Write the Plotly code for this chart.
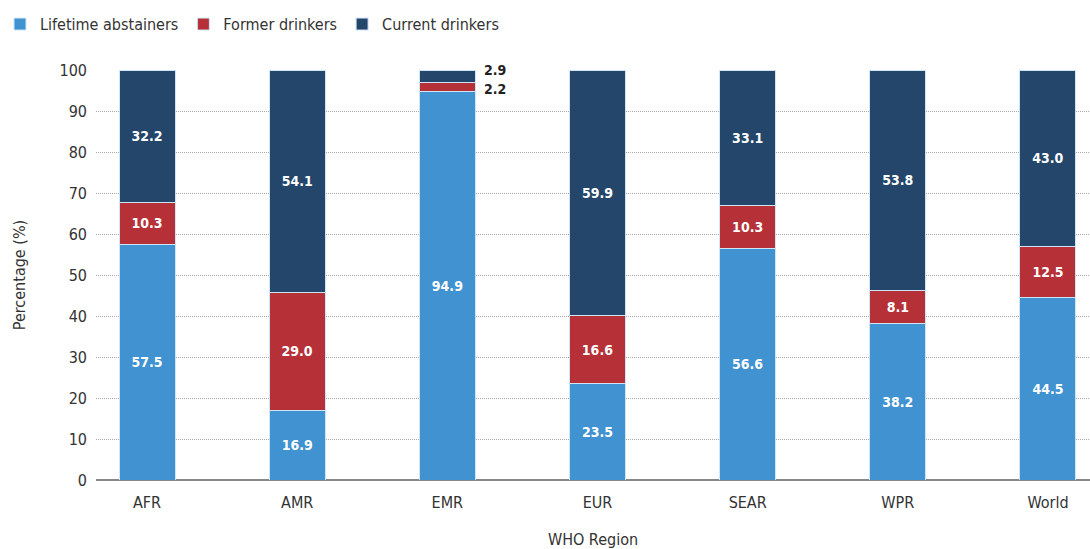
import plotly.graph_objects as go

regions = ["AFR", "AMR", "EMR", "EUR", "SEAR", "WPR", "World"]
lifetime = [57.5, 16.9, 94.9, 23.5, 56.6, 38.2, 44.5]
former = [10.3, 29.0, 2.2, 16.6, 10.3, 8.1, 12.5]
current = [32.2, 54.1, 2.9, 59.9, 33.1, 53.8, 43.0]
yticks = [0, 10, 20, 30, 40, 50, 60, 70, 80, 90, 100]

FONT = "Liberation Sans Narrow, DejaVu Sans Condensed, Arial Narrow, sans-serif"
C_BLUE = "#4092d0"
C_RED = "#b53137"
C_NAVY = "#24466a"
BW = 0.373

outside_region = "EMR"

def txt(vals, hide_outside):
    return ["" if (hide_outside and r == outside_region) else f"{v:.1f}"
            for r, v in zip(regions, vals)]

fig = go.Figure()
for name, vals, col, hide in [("Lifetime abstainers", lifetime, C_BLUE, False),
                              ("Former drinkers", former, C_RED, True),
                              ("Current drinkers", current, C_NAVY, True)]:
    fig.add_trace(go.Bar(
        x=regions, y=vals, name=name, width=BW,
        marker=dict(color=col, line=dict(color="#cfe6f7", width=1)),
        text=txt(vals, hide), textposition="inside", insidetextanchor="middle",
        textangle=0, constraintext="none", cliponaxis=False,
        insidetextfont=dict(family=FONT, size=14, color="white", weight="bold"),
        hoverinfo="x+y+name",
    ))

# outside labels for EMR
i = regions.index(outside_region)
fig.add_annotation(x=i + BW / 2, y=100, text=f"{current[i]:.1f}",
                   showarrow=False, xanchor="left", yanchor="middle", xshift=7,
                   font=dict(family=FONT, size=14, color="#222", weight="bold"))
fig.add_annotation(x=i + BW / 2, y=round(lifetime[i] + former[i], 1), text=f"{former[i]:.1f}",
                   showarrow=False, xanchor="left", yanchor="top", xshift=7, yshift=3,
                   font=dict(family=FONT, size=14, color="#222", weight="bold"))

fig.update_layout(
    barmode="stack",
    width=1090, height=549,
    margin=dict(l=96, r=0, t=70, b=69, autoexpand=False),
    plot_bgcolor="white", paper_bgcolor="white",
    font=dict(family=FONT, size=16, color="#333"),
    legend=dict(orientation="h", xref="container", yref="container",
                x=-0.0046, y=0.956, xanchor="left", yanchor="middle",
                font=dict(family=FONT, size=16, color="#333"), traceorder="normal"),
    xaxis=dict(range=[-0.34, 6.28], showgrid=False, showline=False, ticks="",
               ticklabelstandoff=11, automargin=False,
               title=dict(text="WHO Region", standoff=24, font=dict(family=FONT, size=16, color="#333")),
               tickfont=dict(family=FONT, size=16, color="#333")),
    yaxis=dict(range=[0, 100.1], tickvals=yticks, showgrid=True, gridcolor="#aaa",
               griddash="1px,1px", gridwidth=1, zeroline=True, zerolinecolor="#888",
               zerolinewidth=2, showline=False, ticks="", ticklabelstandoff=8,
               automargin=False,
               title=dict(text="Percentage (%)", standoff=29, font=dict(family=FONT, size=16, color="#333")),
               tickfont=dict(family=FONT, size=16, color="#333")),
    showlegend=True,
)

fig.write_html("out.html")
